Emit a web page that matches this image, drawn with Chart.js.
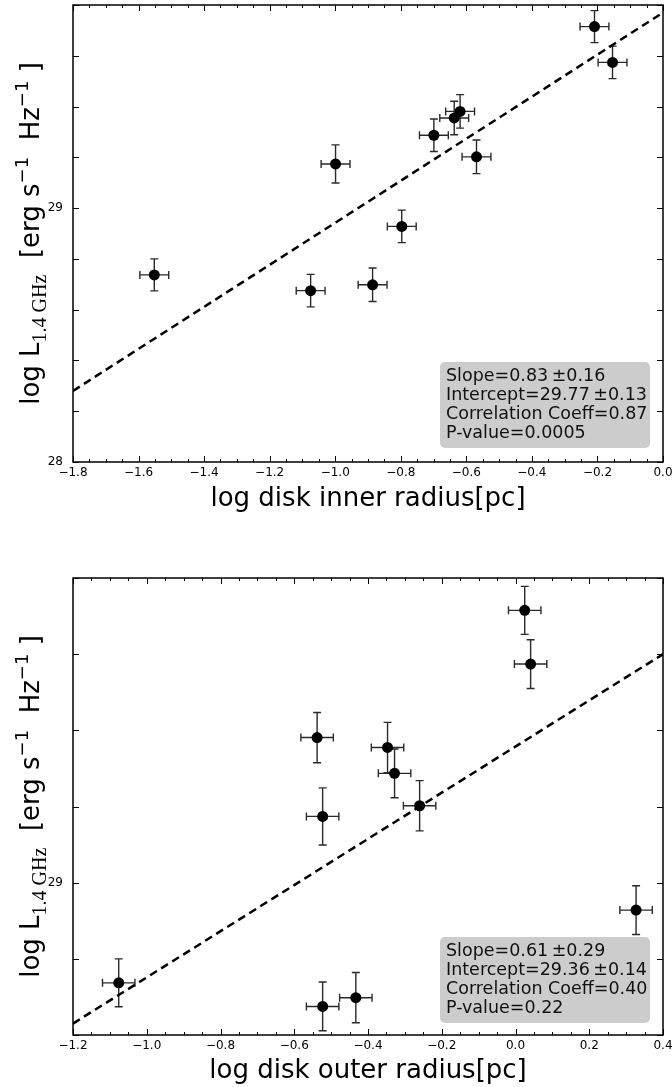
<!DOCTYPE html>
<html><head><meta charset="utf-8">
<script src="https://cdn.jsdelivr.net/npm/chart.js@4.4.0/dist/chart.umd.min.js"></script>
<style>
html,body{margin:0;padding:0;background:#fff;}
#w1{position:absolute;left:0;top:0;width:672px;height:540px;}
#w2{position:absolute;left:0;top:540px;width:672px;height:547px;}
canvas{display:block;}
</style></head><body>
<div id="w1"><canvas id="c1" width="672" height="540"></canvas></div>
<div id="w2"><canvas id="c2" width="672" height="547"></canvas></div>
<script>
// ---- data ----
const lumY   = [28.737, 28.675, 28.698, 28.928, 29.174, 29.287, 29.355, 29.381, 29.202, 29.715, 29.574];
const lumErr = [0.063, 0.064, 0.066, 0.064, 0.075, 0.064, 0.066, 0.066, 0.066, 0.063, 0.064];
const innerX    = [-1.552, -1.075, -0.886, -0.797, -0.999, -0.699, -0.637, -0.619, -0.569, -0.209, -0.154];
const innerXErr = [0.044, 0.044, 0.044, 0.044, 0.044, 0.044, 0.044, 0.044, 0.044, 0.044, 0.044];
const outerX    = [-1.076, -0.523, -0.433, 0.327, -0.523, -0.328, -0.347, -0.538, -0.260, 0.025, 0.041];
const outerXErr = [0.044, 0.044, 0.044, 0.044, 0.044, 0.044, 0.044, 0.044, 0.044, 0.044, 0.044];
const innerFitX = [-1.8, 0.0];
const innerFitY = [28.28, 29.77];
const outerFitX = [-1.2, 0.4];
const outerFitY = [28.63, 29.60];
const innerXTicks  = [-1.8, -1.6, -1.4, -1.2, -1.0, -0.8, -0.6, -0.4, -0.2, 0.0];
const innerXLabels = ['\u22121.8','\u22121.6','\u22121.4','\u22121.2','\u22121.0','\u22120.8','\u22120.6','\u22120.4','\u22120.2','0.0'];
const outerXTicks  = [-1.2, -1.0, -0.8, -0.6, -0.4, -0.2, 0.0, 0.2, 0.4];
const outerXLabels = ['\u22121.2','\u22121.0','\u22120.8','\u22120.6','\u22120.4','\u22120.2','0.0','0.2','0.4'];
const innerYTicks  = [28.0, 28.2, 28.4, 28.6, 28.8, 29.0, 29.2, 29.4, 29.6, 29.8];
const innerYLabels = ['28', '', '', '', '', '29', '', '', '', ''];
const outerYTicks  = [28.6, 28.8, 29.0, 29.2, 29.4, 29.6, 29.8];
const outerYLabels = ['', '', '29', '', '', '', ''];
const innerStats = ['Slope=0.83\u2009\u00b10.16', 'Intercept=29.77\u2009\u00b10.13', 'Correlation Coeff=0.87', 'P-value=0.0005'];
const outerStats = ['Slope=0.61\u2009\u00b10.29', 'Intercept=29.36\u2009\u00b10.14', 'Correlation Coeff=0.40', 'P-value=0.22'];

const FONT = "'DejaVu Sans', sans-serif";

function makeChart(canvas, cfg) {
  const pts = cfg.x.map((x, i) => ({x: x, y: lumY[i]}));
  const fit = cfg.fitX.map((x, i) => ({x: x, y: cfg.fitY[i]}));

  const errPlugin = {
    id: 'err',
    beforeDatasetsDraw(chart) {
      const {ctx} = chart;
      const xs = chart.scales.x, ys = chart.scales.y;
      ctx.save();
      ctx.strokeStyle = '#2a2a2a';
      ctx.lineWidth = 1.4;
      const cap = 4;
      cfg.x.forEach((x, i) => {
        const px = xs.getPixelForValue(x), py = ys.getPixelForValue(lumY[i]);
        const y1 = ys.getPixelForValue(lumY[i] - lumErr[i]);
        const y2 = ys.getPixelForValue(lumY[i] + lumErr[i]);
        const x1 = xs.getPixelForValue(x - cfg.xErr[i]);
        const x2 = xs.getPixelForValue(x + cfg.xErr[i]);
        ctx.beginPath();
        ctx.moveTo(px, y1); ctx.lineTo(px, y2);
        ctx.moveTo(px - cap, y1); ctx.lineTo(px + cap, y1);
        ctx.moveTo(px - cap, y2); ctx.lineTo(px + cap, y2);
        ctx.moveTo(x1, py); ctx.lineTo(x2, py);
        ctx.moveTo(x1, py - cap); ctx.lineTo(x1, py + cap);
        ctx.moveTo(x2, py - cap); ctx.lineTo(x2, py + cap);
        ctx.stroke();
      });
      ctx.restore();
    }
  };

  const framePlugin = {
    id: 'frame',
    afterDraw(chart) {
      const {ctx, chartArea: a} = chart;
      const xs = chart.scales.x, ys = chart.scales.y;
      ctx.save();
      ctx.strokeStyle = '#000';
      ctx.lineWidth = 1.5;
      ctx.strokeRect(a.left, a.top, a.right - a.left, a.bottom - a.top);
      ctx.lineWidth = 1;
      ctx.beginPath();
      // x ticks (major + minor), inward, bottom and top
      const step = 0.05;
      const n = Math.round((cfg.xMax - cfg.xMin) / step);
      for (let k = 0; k <= n; k++) {
        const v = cfg.xMin + k * step;
        const px = Math.round(xs.getPixelForValue(v)) + 0.5;
        const len = (k % 4 === 0) ? 6 : 3;
        ctx.moveTo(px, a.bottom); ctx.lineTo(px, a.bottom - len);
        ctx.moveTo(px, a.top); ctx.lineTo(px, a.top + len);
      }
      cfg.yTicks.forEach(v => {
        const py = Math.round(ys.getPixelForValue(v)) + 0.5;
        ctx.moveTo(a.left, py); ctx.lineTo(a.left + 6, py);
        ctx.moveTo(a.right, py); ctx.lineTo(a.right - 6, py);
      });
      ctx.stroke();

      // stats box
      const bw = 210, bh = 86;
      const bx = a.right - 13 - bw, by = a.bottom - cfg.boxGap - bh;
      ctx.fillStyle = '#cccccc';
      ctx.beginPath();
      ctx.roundRect(bx, by, bw, bh, 5);
      ctx.fill();
      ctx.fillStyle = '#111';
      ctx.font = '17.5px ' + FONT;
      ctx.textBaseline = 'middle';
      ctx.textAlign = 'left';
      cfg.stats.forEach((t, i) => ctx.fillText(t, bx + 6, by + 14 + i * 19.3));

      // y axis title with sub/superscripts
      const yc = (a.top + a.bottom) / 2;
      const pieces = [
        {t: 'log L', f: '26px ' + FONT, dy: 0},
        {t: '1.4 GHz', f: "20px 'Liberation Serif', serif", dy: 7},
        {t: '  [erg s', f: '26px ' + FONT, dy: 0},
        {t: '\u22121', f: '18px ' + FONT, dy: -11},
        {t: '  Hz', f: '26px ' + FONT, dy: 0},
        {t: '\u22121', f: '18px ' + FONT, dy: -11},
        {t: ' ]', f: '26px ' + FONT, dy: 0}
      ];
      let total = 0;
      pieces.forEach(p => { ctx.font = p.f; p.w = ctx.measureText(p.t).width; total += p.w; });
      ctx.translate(39, yc);
      ctx.rotate(-Math.PI / 2);
      ctx.fillStyle = '#000';
      ctx.textBaseline = 'alphabetic';
      let cx = -total / 2;
      pieces.forEach(p => { ctx.font = p.f; ctx.fillText(p.t, cx, p.dy); cx += p.w; });
      ctx.restore();
    }
  };

  return new Chart(canvas, {
    type: 'scatter',
    data: {
      datasets: [
        {data: fit, showLine: true, borderColor: '#000', borderWidth: 2.5, borderDash: [8, 5],
         pointRadius: 0, fill: false, order: 2},
        {data: pts, pointRadius: 5.5, pointBackgroundColor: '#000', pointBorderWidth: 0,
         backgroundColor: '#000', showLine: false, order: 1}
      ]
    },
    options: {
      responsive: false,
      animation: false,
      devicePixelRatio: 1,
      layout: {padding: {left: 0, right: 9, top: cfg.padTop, bottom: 0}, autoPadding: false},
      plugins: {legend: {display: false}, tooltip: {enabled: false}},
      scales: {
        x: {
          type: 'linear', min: cfg.xMin, max: cfg.xMax,
          afterBuildTicks: s => { s.ticks = cfg.xTicks.map(v => ({value: v})); },
          afterFit: s => { s.height = cfg.xH; s.paddingLeft = 0; s.paddingRight = 0; },
          ticks: {callback: (v, i) => cfg.xLabels[i], font: {family: FONT, size: 12}, color: '#000',
                  padding: 4, maxRotation: 0, autoSkip: false},
          grid: {display: false, drawTicks: false},
          border: {display: false},
          title: {display: true, text: cfg.xTitle, font: {family: FONT, size: 26}, color: '#000',
                  padding: {top: 0, bottom: cfg.titlePad}}
        },
        y: {
          type: 'linear', min: cfg.yMin, max: cfg.yMax,
          afterBuildTicks: s => { s.ticks = cfg.yTicks.map(v => ({value: v})); },
          afterFit: s => { s.width = 73; s.paddingTop = 0; s.paddingBottom = 0; },
          ticks: {callback: (v, i) => cfg.yLabels[i], font: {family: FONT, size: 12}, color: '#000',
                  padding: 10, autoSkip: false},
          grid: {display: false, drawTicks: false},
          border: {display: false}
        }
      }
    },
    plugins: [errPlugin, framePlugin]
  });
}

makeChart(document.getElementById('c1'), {
  x: innerX, xErr: innerXErr, fitX: innerFitX, fitY: innerFitY,
  xMin: -1.8, xMax: 0.0, yMin: 28.0, yMax: 29.8,
  xTicks: innerXTicks, xLabels: innerXLabels, yTicks: innerYTicks, yLabels: innerYLabels,
  stats: innerStats, xTitle: 'log disk inner radius[pc]',
  padTop: 5, xH: 78, titlePad: 25, boxGap: 14
});
makeChart(document.getElementById('c2'), {
  x: outerX, xErr: outerXErr, fitX: outerFitX, fitY: outerFitY,
  xMin: -1.2, xMax: 0.4, yMin: 28.6, yMax: 29.8,
  xTicks: outerXTicks, xLabels: outerXLabels, yTicks: outerYTicks, yLabels: outerYLabels,
  stats: outerStats, xTitle: 'log disk outer radius[pc]',
  padTop: 38, xH: 52, titlePad: 0, boxGap: 12
});
</script>
</body></html>
